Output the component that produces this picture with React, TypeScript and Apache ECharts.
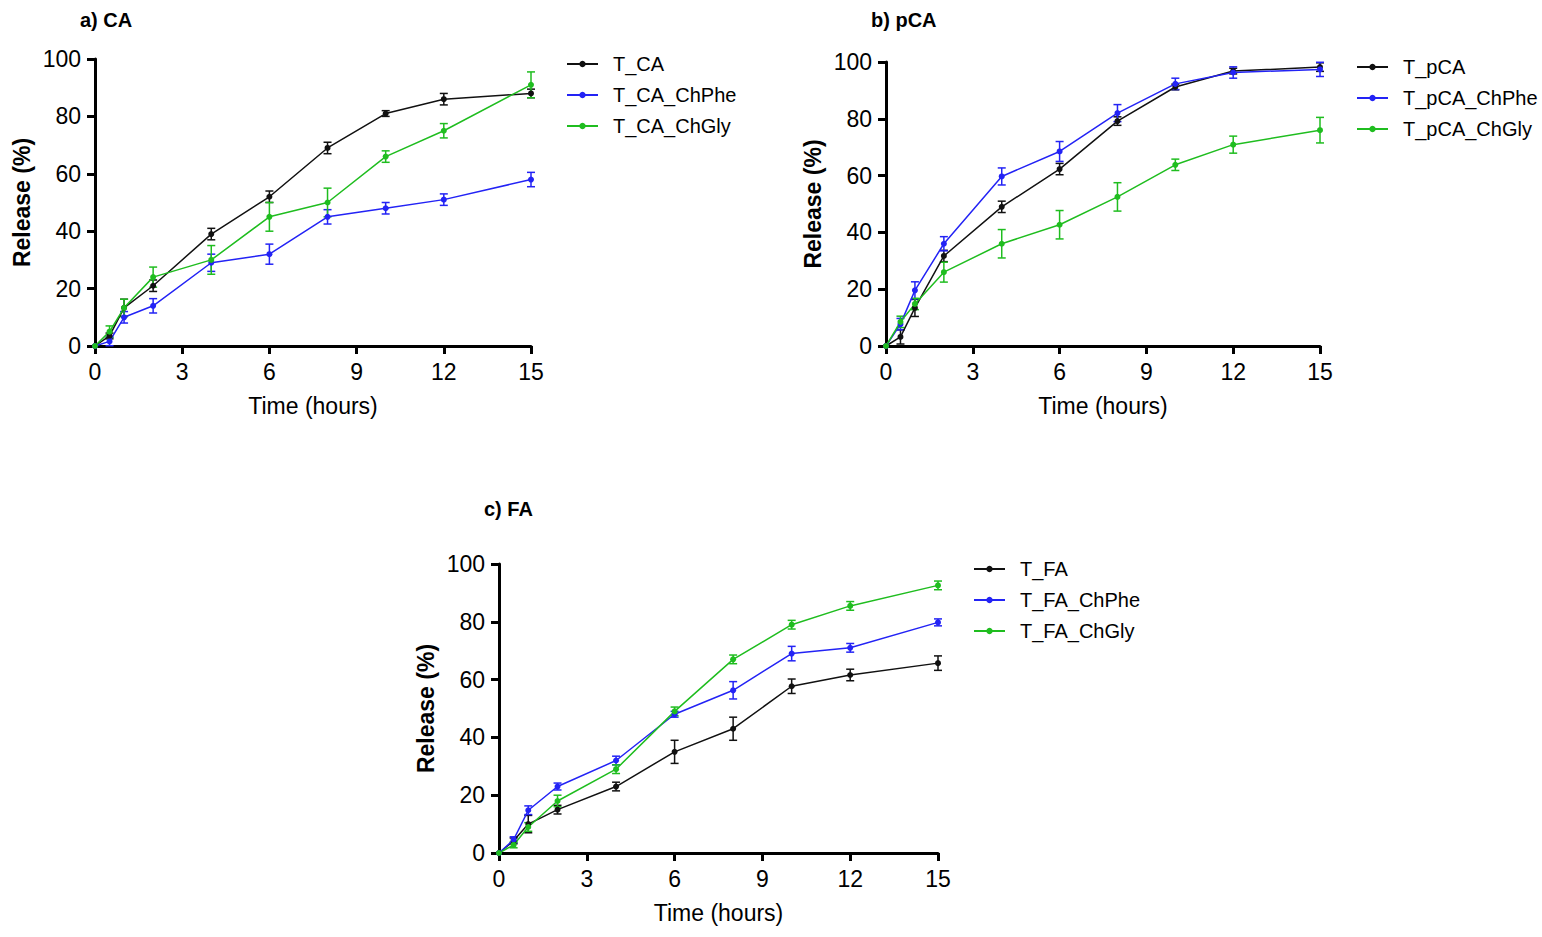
import React, { useEffect, useRef } from "react";
import * as echarts from "echarts";

const timePoints = [0, 0.5, 1, 2, 4, 6, 8, 10, 12, 15];

// Panel a) CA
const caNames = ["T_CA", "T_CA_ChPhe", "T_CA_ChGly"];
const caT = [0, 3.5, 13.3, 21, 39, 52, 69, 81, 86, 88];
const caTErr = [0, 1, 3, 2, 2, 2, 2, 1, 2, 1.5];
const caPhe = [0, 1.6, 10, 14, 29, 32, 45, 48, 51, 58];
const caPheErr = [0, 1.5, 2, 2.5, 3, 3.5, 2.5, 2, 2, 2.5];
const caGly = [0, 5, 13.3, 24, 30, 45, 50, 66, 75, 91];
const caGlyErr = [0, 2, 3, 3.5, 5, 5, 5, 2, 2.5, 4.5];

// Panel b) pCA
const pcaNames = ["T_pCA", "T_pCA_ChPhe", "T_pCA_ChGly"];
const pcaT = [0, 3.2, 13.4, 31.7, 49, 62.3, 79.2, 91.2, 96.8, 98.2];
const pcaTErr = [0, 2.5, 3, 2, 2, 2, 1.5, 1, 1, 1.5];
const pcaPhe = [0, 7.7, 19.6, 36, 59.7, 68.5, 82, 92.3, 96.3, 97.4];
const pcaPheErr = [0, 2, 3, 2.5, 3, 3.5, 3, 2, 2, 2.5];
const pcaGly = [0, 8.5, 14.8, 26, 36, 42.7, 52.5, 63.8, 70.9, 76];
const pcaGlyErr = [0, 2, 2, 3.5, 5, 5, 5, 2, 3, 4.5];

// Panel c) FA
const faNames = ["T_FA", "T_FA_ChPhe", "T_FA_ChGly"];
const faT = [0, 4.2, 10, 15, 23, 35, 43, 57.7, 61.6, 65.7];
const faTErr = [0, 1, 3, 1.5, 1.5, 4, 4, 2.5, 2, 2.5];
const faPhe = [0, 4.6, 14.8, 23, 32, 48, 56.3, 69, 71, 79.8];
const faPheErr = [0, 1, 1.5, 1.2, 1.5, 1, 3, 2.5, 1.5, 1.2];
const faGly = [0, 2.8, 9, 18, 29, 49, 67, 79, 85.5, 92.6];
const faGlyErr = [0, 1, 1.5, 2, 1.5, 1.5, 1.5, 1.5, 1.5, 1.5];

const panelTitles = ["a) CA", "b) pCA", "c) FA"];
const xTicks = { min: 0, max: 15, interval: 3 };
const yTicks = { min: 0, max: 100, interval: 20 };

const colors = ["#111111", "#2323f5", "#1fbd1f"];
const FONT = "Liberation Sans, Arial, Helvetica, sans-serif";

const panels = [
  {
    names: caNames,
    values: [caT, caPhe, caGly],
    errors: [caTErr, caPheErr, caGlyErr],
  },
  {
    names: pcaNames,
    values: [pcaT, pcaPhe, pcaGly],
    errors: [pcaTErr, pcaPheErr, pcaGlyErr],
  },
  {
    names: faNames,
    values: [faT, faPhe, faGly],
    errors: [faTErr, faPheErr, faGlyErr],
  },
];

const grids = [
  { left: 95, top: 59, width: 436, height: 287 },
  { left: 886, top: 62, width: 434, height: 284 },
  { left: 499, top: 564, width: 439, height: 289 },
];
const titlePos = [
  { left: 75, top: 5 },
  { left: 866, top: 5 },
  { left: 479, top: 494 },
];
const legendPos = [
  { left: 561, top: 49 },
  { left: 1351, top: 52 },
  { left: 968, top: 554 },
];

function buildOption() {
  const series: any[] = [];
  panels.forEach((p, pi) => {
    p.names.forEach((name, si) => {
      const color = colors[si];
      const vals = p.values[si];
      const errs = p.errors[si];
      series.push({
        name,
        type: "line",
        xAxisIndex: pi,
        yAxisIndex: pi,
        data: timePoints.map((t, i) => [t, vals[i]]),
        symbol: "circle",
        symbolSize: 6,
        showSymbol: true,
        lineStyle: { color, width: 1.5 },
        itemStyle: { color },
        z: 3,
      });
      series.push({
        type: "custom",
        xAxisIndex: pi,
        yAxisIndex: pi,
        z: 2,
        silent: true,
        data: timePoints
          .map((t, i) => [t, vals[i] - errs[i], vals[i] + errs[i]])
          .filter((d, i) => errs[i] > 0),
        encode: { x: 0, y: [1, 2] },
        renderItem: (params: any, api: any) => {
          const x = api.value(0);
          const lo = api.coord([x, api.value(1)]);
          const hi = api.coord([x, api.value(2)]);
          const hw = 4;
          const style = { stroke: color, lineWidth: 1.5, fill: null };
          return {
            type: "group",
            children: [
              { type: "line", shape: { x1: lo[0], y1: lo[1], x2: hi[0], y2: hi[1] }, style },
              { type: "line", shape: { x1: lo[0] - hw, y1: lo[1], x2: lo[0] + hw, y2: lo[1] }, style },
              { type: "line", shape: { x1: hi[0] - hw, y1: hi[1], x2: hi[0] + hw, y2: hi[1] }, style },
            ],
          };
        },
      });
    });
  });

  const axisLine = { show: true, onZero: false, lineStyle: { color: "#000", width: 3 } };
  const axisTick = { show: true, inside: false, length: 8, lineStyle: { color: "#000", width: 3 } };

  return {
    animation: false,
    backgroundColor: "#ffffff",
    textStyle: { fontFamily: FONT },
    title: panelTitles.map((t, i) => ({
      text: t,
      left: titlePos[i].left,
      top: titlePos[i].top,
      textStyle: { fontFamily: FONT, fontSize: 20, fontWeight: "bold", color: "#000" },
    })),
    legend: panels.map((p, i) => ({
      data: p.names,
      orient: "vertical",
      left: legendPos[i].left,
      top: legendPos[i].top,
      itemWidth: 31,
      itemHeight: 8,
      itemGap: 11,
      textStyle: { fontFamily: FONT, fontSize: 20, color: "#000", padding: [0, 0, 0, 10] },
    })),
    grid: grids.map((g) => ({ ...g, containLabel: false })),
    xAxis: grids.map((g, i) => ({
      type: "value",
      gridIndex: i,
      min: xTicks.min,
      max: xTicks.max,
      interval: xTicks.interval,
      name: "Time (hours)",
      nameLocation: "middle",
      nameGap: 48,
      nameTextStyle: { fontFamily: FONT, fontSize: 23, color: "#000" },
      axisLine,
      axisTick,
      splitLine: { show: false },
      axisLabel: { fontFamily: FONT, fontSize: 23, color: "#000", margin: 14 },
    })),
    yAxis: grids.map((g, i) => ({
      type: "value",
      gridIndex: i,
      min: yTicks.min,
      max: yTicks.max,
      interval: yTicks.interval,
      name: "Release (%)",
      nameLocation: "middle",
      nameGap: 62,
      nameRotate: 90,
      nameTextStyle: { fontFamily: FONT, fontSize: 23, fontWeight: "bold", color: "#000" },
      axisLine,
      axisTick,
      splitLine: { show: false },
      axisLabel: { fontFamily: FONT, fontSize: 23, color: "#000", margin: 14 },
    })),
    series,
  };
}

export default function App() {
  const ref = useRef<HTMLDivElement>(null);
  useEffect(() => {
    document.body.style.margin = "0";
    if (!ref.current) return;
    const chart = echarts.init(ref.current, undefined, { renderer: "svg" });
    chart.setOption(buildOption() as any);
    return () => chart.dispose();
  }, []);
  return <div ref={ref} style={{ width: 1542, height: 937, background: "#fff" }} />;
}
